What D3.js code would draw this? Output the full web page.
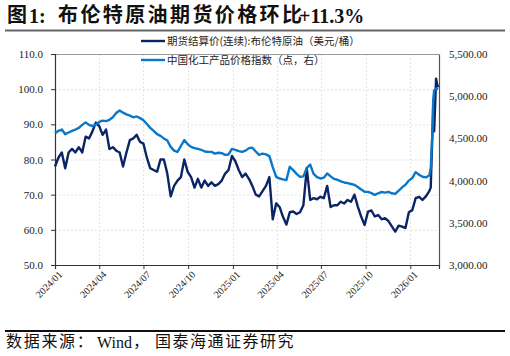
<!DOCTYPE html>
<html>
<head>
<meta charset="utf-8">
<script src="https://cdn.jsdelivr.net/npm/d3@7"></script>
<style>
  html, body { margin: 0; padding: 0; background: #fff; }
  svg { display: block; }
</style>
</head>
<body>
<svg id="chart" width="510" height="356"></svg>
<script>
// ---------- DATA ----------
const seriesNames = ["期货结算价(连续):布伦特原油（美元/桶）", "中国化工产品价格指数（点，右）"];
const weekStart = "2024-01-01";           // weekly observations start (Mondays)
const brentWeekly = [
  78, 80.5, 82, 77.5, 82, 83, 82, 83.5, 82, 86.5,
  86, 88, 90.5, 89.5, 87, 88.5, 83, 83.5, 82.5, 82,
  78, 82, 85.5, 86, 87, 85, 84.5, 80.5, 77.5, 77,
  76.5, 80, 80, 76, 69.5, 72.5, 74, 75, 80, 76.5,
  75, 72, 74.5, 72, 74, 72.5, 73.5, 72.5, 73, 74,
  76, 77, 81, 79.5, 77, 75, 76, 74.5, 72.5, 70,
  69.5, 71, 72.5, 75, 63, 67.5, 66.5, 63.7, 61.5, 65,
  65.2, 64.5, 65, 67, 77.5, 68.5, 69, 68.7, 69.4, 69,
  72.5, 66.5, 67, 67, 68, 67.5, 68.5, 68, 70, 66.6,
  63.7, 61.4, 65.2, 65.5, 63.8, 64.2, 63, 63.3, 62.5, 61,
  59.5, 61.2, 60.9, 60.5, 65, 65.6, 69, 69.4, 68.5, 69.5,
  71
];
const chemWeekly = [
  4560, 4590, 4605, 4550, 4570, 4590, 4605, 4625, 4660, 4690,
  4660, 4645, 4665, 4695, 4710, 4705, 4720, 4750, 4800, 4830,
  4805, 4785, 4770, 4750, 4760, 4740, 4715, 4670, 4625, 4590,
  4550, 4530, 4500, 4475, 4400, 4355, 4340, 4410, 4480, 4430,
  4400, 4385, 4375, 4365, 4345, 4340, 4340, 4320, 4330, 4325,
  4305, 4310, 4375, 4365, 4350, 4340, 4355, 4385, 4390, 4345,
  4305, 4320, 4310, 4290, 4160, 4045, 4025, 4014, 4006, 4164,
  4124, 4080, 4045, 4050, 4150, 4190, 4080, 4040, 4025, 4035,
  4085, 4050, 4020, 4010, 3990, 3978, 3970, 3960, 3950, 3925,
  3895, 3867, 3867, 3852, 3830, 3850, 3865, 3858, 3866, 3850,
  3842, 3880, 3920, 3950, 4000, 4030, 4100, 4070, 4045, 4038,
  4060
];
// final daily observations (spike)
const tailDates = ["2026-02-12", "2026-02-16", "2026-02-17", "2026-02-19", "2026-02-23", "2026-02-25", "2026-02-27"];
const brentTail = [72, 90, 95, 88, 103, 101.5, 100.5];
const chemTail  = [4150, 4650, 4950, 5070, 5090, 5085, 5080];

const leftTicks  = [50, 60, 70, 80, 90, 100, 110];
const rightTicks = [3000, 3500, 4000, 4500, 5000, 5500];
const xDomain = ["2024-01-01", "2026-03-01"];

// ---------- BUILD ----------
const parse = d3.timeParse("%Y-%m-%d");
const start = parse(weekStart);
const weekDates = brentWeekly.map((_, i) => d3.timeWeek.offset(start, i));
const allDates = weekDates.concat(tailDates.map(parse));
const brent = allDates.map((d, i) => ({ date: d, v: i < brentWeekly.length ? brentWeekly[i] : brentTail[i - brentWeekly.length] }));
const chem  = allDates.map((d, i) => ({ date: d, v: i < chemWeekly.length ? chemWeekly[i] : chemTail[i - chemWeekly.length] }));

const svg = d3.select("#chart");
const m = { left: 55, right: 439, top: 54, bottom: 265 };
const SERIF = "'Liberation Serif','Times New Roman',serif";
const CJK = "'Noto Sans CJK SC','Noto Sans CJK JP',sans-serif";
const C_DARK = "#0b2466";
const C_LIGHT = "#0a77c9";

const x = d3.scaleTime().domain(xDomain.map(parse)).range([m.left, m.right]);
const yL = d3.scaleLinear().domain([50, 110]).range([m.bottom, m.top]);
const yR = d3.scaleLinear().domain([3000, 5500]).range([m.bottom, m.top]);
const xTicks = d3.timeMonth.every(3).range(parse("2024-01-01"), parse("2026-01-02"));

// title
const title = svg.append("text").attr("y", 22).attr("font-weight", "bold").attr("fill", "#111");
title.append("tspan").attr("x", 7).attr("font-family", CJK).attr("font-size", 20).text("图");
title.append("tspan").attr("x", 29).attr("y", 23).attr("font-family", SERIF).attr("font-size", 20).text("1:");
title.append("tspan").attr("x", 58).attr("y", 22).attr("font-family", CJK).attr("font-size", 20).attr("letter-spacing", 2.4).text("布伦特原油期货价格环比");
title.append("tspan").attr("x", 299).attr("y", 23).attr("font-family", SERIF).attr("font-size", 20).text("+11.3%");
svg.append("line").attr("x1", 5).attr("x2", 505).attr("y1", 30.5).attr("y2", 30.5).attr("stroke", "#666").attr("stroke-width", 2);

// grid
const grid = svg.append("g");
grid.selectAll(".gh").data(leftTicks.slice(1, -1)).join("line")
  .attr("x1", m.left).attr("x2", m.right).attr("y1", d => yL(d) + 0.5).attr("y2", d => yL(d) + 0.5)
  .attr("stroke", "#e3e3e3").attr("stroke-dasharray", "2,2");
grid.selectAll(".gv").data(xTicks.slice(1)).join("line")
  .attr("x1", d => Math.round(x(d)) + 0.5).attr("x2", d => Math.round(x(d)) + 0.5).attr("y1", m.top).attr("y2", m.bottom)
  .attr("stroke", "#e3e3e3").attr("stroke-dasharray", "2,2");

// top border
svg.append("line").attr("x1", m.left).attr("x2", m.right).attr("y1", m.top + 0.5).attr("y2", m.top + 0.5).attr("stroke", "#999");

// axes
const axL = svg.append("g").attr("transform", `translate(${m.left},0)`)
  .call(d3.axisLeft(yL).tickValues(leftTicks).tickFormat(d3.format(".1f")).tickSize(4).tickPadding(8));
const axR = svg.append("g").attr("transform", `translate(${m.right},0)`)
  .call(d3.axisRight(yR).tickValues(rightTicks).tickFormat(d3.format(",.2f")).tickSize(0).tickPadding(10));
const axB = svg.append("g").attr("transform", `translate(0,${m.bottom})`)
  .call(d3.axisBottom(x).tickValues(xTicks).tickFormat(d3.timeFormat("%Y/%m")).tickSize(4).tickPadding(3));
[axL, axR, axB].forEach(a => {
  a.selectAll(".domain").attr("stroke", "#333").attr("stroke-width", 1.2);
  a.selectAll(".tick line").attr("stroke", "#333");
  a.selectAll("text").attr("font-family", SERIF).attr("font-size", 11).attr("fill", "#222");
});
axR.select(".domain").attr("stroke", "#555");
axB.selectAll("text").attr("font-size", 10)
  .attr("text-anchor", "end").attr("dx", "-0.2em").attr("dy", "0.55em")
  .attr("transform", "rotate(-45)");

// lines
const lineL = d3.line().x(d => x(d.date)).y(d => yL(d.v)).curve(d3.curveLinear);
const lineR = d3.line().x(d => x(d.date)).y(d => yR(d.v)).curve(d3.curveLinear);
svg.append("path").datum(brent).attr("d", lineL).attr("fill", "none")
  .attr("stroke", C_DARK).attr("stroke-width", 2.4).attr("stroke-linejoin", "round");
svg.append("path").datum(chem).attr("d", lineR).attr("fill", "none")
  .attr("stroke", C_LIGHT).attr("stroke-width", 2.4).attr("stroke-linejoin", "round");

// legend
const legY = [41, 60];
const legC = [C_DARK, C_LIGHT];
seriesNames.forEach((name, i) => {
  svg.append("line").attr("x1", 141).attr("x2", 165).attr("y1", legY[i]).attr("y2", legY[i])
    .attr("stroke", legC[i]).attr("stroke-width", 2.4);
  svg.append("text").attr("x", 167).attr("y", legY[i] + 3.8)
    .attr("font-family", CJK).attr("font-size", 10.5).attr("fill", "#222").text(name);
});

// source
svg.append("line").attr("x1", 5).attr("x2", 505).attr("y1", 331).attr("y2", 331).attr("stroke", "#111").attr("stroke-width", 2);
const src = svg.append("text").attr("y", 347).attr("fill", "#111");
src.append("tspan").attr("x", 6).attr("font-family", CJK).attr("font-size", 16).attr("letter-spacing", 1.7).text("数据来源：");
src.append("tspan").attr("x", 97).attr("y", 348).attr("font-family", SERIF).attr("font-size", 16).text("Wind");
src.append("tspan").attr("x", 133).attr("y", 347).attr("font-family", CJK).attr("font-size", 16).text("，");
src.append("tspan").attr("x", 155).attr("font-family", CJK).attr("font-size", 16).attr("letter-spacing", 1.5).text("国泰海通证券研究");
</script>
</body>
</html>
